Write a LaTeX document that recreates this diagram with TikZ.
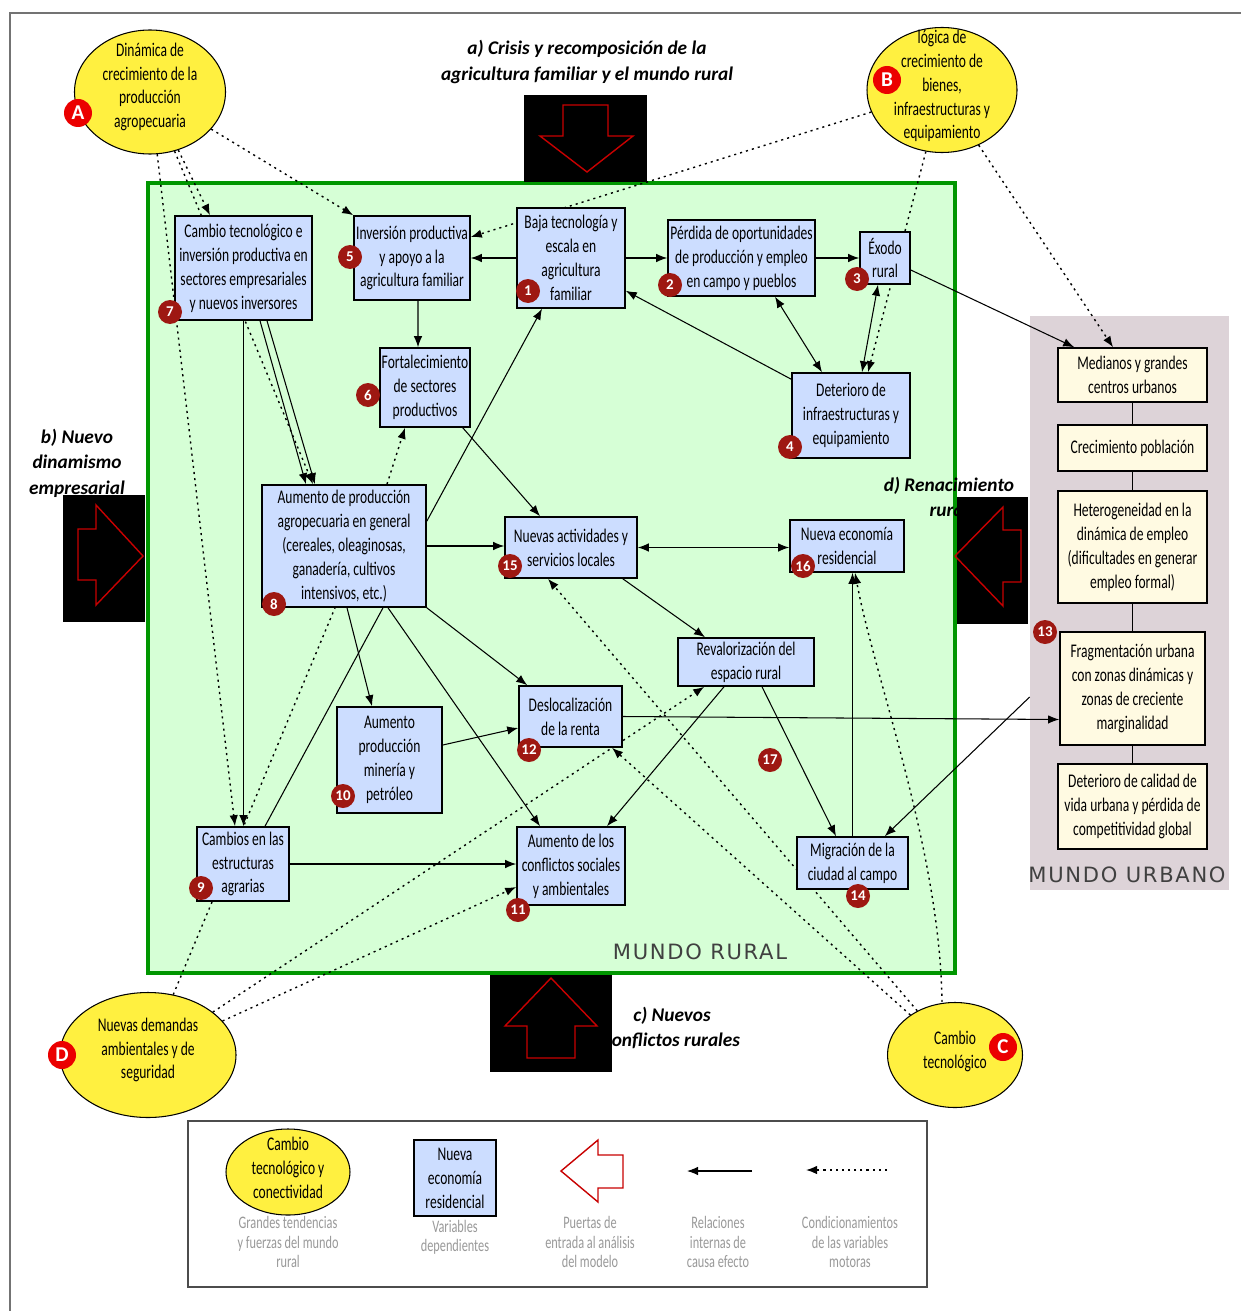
\documentclass[tikz,border=0pt]{standalone}
\usepackage{fontspec}
\setmainfont{Carlito}
\newfontfamily\estrecha[FakeStretch=0.7]{Carlito}
\newfontfamily\rotulo[LetterSpace=8]{DejaVu Sans}
\usepackage{tikz}
\usetikzlibrary{shapes.geometric,arrows.meta,positioning}
\pgfdeclarelayer{fondo}
\pgfdeclarelayer{lineas}
\pgfsetlayers{fondo,lineas,main}

\definecolor{verdefondo}{RGB}{214,255,214}
\definecolor{verdeborde}{RGB}{0,150,0}
\definecolor{azulvar}{RGB}{204,221,255}
\definecolor{crema}{RGB}{255,250,226}
\definecolor{malva}{RGB}{221,211,216}
\definecolor{amarillo}{RGB}{255,240,64}
\definecolor{rojonum}{RGB}{158,24,18}
\definecolor{rojoletra}{RGB}{235,0,0}
\definecolor{rojoflecha}{RGB}{200,0,0}

\tikzset{
  var/.style={draw,line width=0.9pt,fill=azulvar,inner sep=0pt,align=center,
    font=\estrecha\fontsize{11}{13.6}\selectfont},
  urb/.style={var,fill=crema},
  fuerza/.style={ellipse,draw,line width=0.6pt,fill=amarillo,inner sep=0pt},
  texto/.style={align=center,inner sep=0pt,font=\estrecha\fontsize{11}{13.6}\selectfont},
  num/.style={circle,fill=rojonum,text=white,minimum size=4.8mm,inner sep=0pt,
    font=\bfseries\fontsize{8.5}{8.5}\selectfont},
  letra/.style={circle,fill=rojoletra,text=white,minimum size=5.6mm,inner sep=0pt,
    font=\bfseries\fontsize{12}{12}\selectfont},
  rel/.style={->,line width=0.6pt},
  cond/.style={->,line width=0.8pt,dash pattern=on 1.2pt off 2.3pt},
  puerta/.style={draw=rojoflecha,line width=0.8pt},
  titulo/.style={align=center,inner sep=0pt,font=\bfseries\itshape\fontsize{11}{14.5}\selectfont},
  leyenda/.style={align=center,inner sep=0pt,text=black!40,font=\estrecha\fontsize{10}{11}\selectfont}
}

\begin{document}
\begin{tikzpicture}[x=0.2mm,y=-0.2mm,>={Latex[length=2.2mm,width=1.7mm]}]
\useasboundingbox (0,0) rectangle (1241,1311);

\begin{pgfonlayer}{fondo}
\fill[white] (0,0) rectangle (1241,1311);
\draw[black!55,line width=0.7pt] (10,1311) |- (1241,13);
\node[draw=verdeborde,line width=2.3pt,fill=verdefondo,minimum width=161.4mm,minimum height=158mm] (rural) at (551.5,578) {};
\node[fill=malva,inner sep=0pt,minimum width=39.8mm,minimum height=114.8mm] (urbano) at (1129.5,603) {};
\node[titulo] (tita) at (587,62) {a) Crisis y recomposición de la\\agricultura familiar y el mundo rural};
\node[titulo] (titb) at (77,463) {b) Nuevo\\dinamismo\\empresarial};
\node[titulo] (titd) at (949,497) {d) Renacimiento\\rural};
\node[titulo] (titc) at (672,1028) {c) Nuevos\\conflictos rurales};
% puertas de entrada
\fill (524,95) rectangle (647,182);
\fill (63,495) rectangle (145,622);
\fill (957,497) rectangle (1028,624);
\fill (490,975) rectangle (612,1072);
\draw[puerta] (563,105) -- (608,105) -- (608,136) -- (633,136) -- (587,172) -- (540,136) -- (563,136) -- cycle;
\draw[puerta] (78,529) -- (96,529) -- (96,505) -- (143,556) -- (96,605) -- (96,580) -- (78,580) -- cycle;
\draw[puerta] (1021,530) -- (1003,530) -- (1003,507) -- (955,556) -- (1003,606) -- (1003,582) -- (1021,582) -- cycle;
\draw[puerta] (527,1058) -- (527,1026) -- (505,1026) -- (551,978) -- (597,1026) -- (575,1026) -- (575,1058) -- cycle;
\node[font=\rotulo\fontsize{12}{12}\selectfont,text=black!75] (mrural) at (700,952) {MUNDO RURAL};
\node[font=\rotulo\fontsize{12}{12}\selectfont,text=black!75] (murbano) at (1127,875) {MUNDO URBANO};
\end{pgfonlayer}

\foreach \pos/\name/\w/\h/\txt in {
  {(571,258)/n1/21.6/20/{Baja tecnología y\\escala en\\agricultura\\familiar}},
  {(741.5,258)/n2/29.4/15.2/{Pérdida de oportunidades\\de producción y empleo\\en campo y pueblos}},
  {(885,258)/n3/10/10.4/{Éxodo\\rural}},
  {(851,415.5)/n4/23.6/17/{Deterioro de\\infraestructuras y\\equipamiento}},
  {(412,258)/n5/23.2/16.8/{Inversión productiva\\y apoyo a la\\agricultura familiar}},
  {(425,387.5)/n6/18/15.8/{Fortalecimiento\\de sectores\\productivos}},
  {(243.5,268)/n7/27.4/20.8/{Cambio tecnológico e\\inversión productiva en\\sectores empresariales\\y nuevos inversores}},
  {(344,546)/n8/32.8/24.4/{Aumento de producción\\agropecuaria en general\\(cereales, oleaginosas,\\ganadería, cultivos\\intensivos, etc.)}},
  {(243,864)/n9/18.4/14.8/{Cambios en las\\estructuras\\agrarias}},
  {(389.5,760)/n10/21/21.2/{Aumento\\producción\\minería y\\petróleo}},
  {(571,866)/n11/21.6/15.6/{Aumento de los\\conflictos sociales\\y ambientales}},
  {(570.5,716.5)/n12/20.6/12.2/{Deslocalización\\de la renta}},
  {(852.5,863)/n14/22.2/10.4/{Migración de la\\ciudad al campo}},
  {(571,547.5)/n15/26.4/12.2/{Nuevas actividades y\\servicios locales}},
  {(847,546)/n16/22.8/10.4/{Nueva economía\\residencial}},
  {(746,662)/rev/27.2/9.6/{Revalorización del\\espacio rural}}}
  \node[var,minimum width=\w mm,minimum height=\h mm] (\name) at \pos {\txt};

\foreach \pos/\name/\w/\h/\txt in {
  {(1132.5,375)/u1/29.8/10.8/{Medianos y grandes\\centros urbanos}},
  {(1132.5,448)/u2/29.8/9.2/{Crecimiento población}},
  {(1132.5,547)/u3/29.8/22.4/{Heterogeneidad en la\\dinámica de empleo\\(dificultades en generar\\empleo formal)}},
  {(1132.5,688.5)/u4/29/22.6/{Fragmentación urbana\\con zonas dinámicas y\\zonas de creciente\\marginalidad}},
  {(1132.5,806.5)/u5/29.8/17/{Deterioro de calidad de\\vida urbana y pérdida de\\competitividad global}}}
  \node[urb,minimum width=\w mm,minimum height=\h mm] (\name) at \pos {\txt};

\node[fuerza,minimum width=30.2mm,minimum height=24.8mm] (fA) at (150,92) {};
\node[texto] (tA) at (150,87) {Dinámica de\\crecimiento de la\\producción\\agropecuaria};
\node[fuerza,minimum width=30mm,minimum height=25mm] (fB) at (942,90) {};
\node[texto] (tB) at (942,86) {lógica de\\crecimiento de\\bienes,\\infraestructuras y\\equipamiento};
\node[fuerza,minimum width=27mm,minimum height=21mm] (fC) at (955,1055) {};
\node[texto] (tC) at (955,1051) {Cambio\\tecnológico};
\node[fuerza,minimum width=35.2mm,minimum height=25mm] (fD) at (148,1055) {};
\node[texto] (tD) at (148,1050) {Nuevas demandas\\ambientales y de\\seguridad};

\foreach \pos/\n in {{(528,291)/1},{(670,285)/2},{(857,279)/3},{(790,447)/4},{(350,257)/5},{(368,395)/6},{(170,312)/7},{(274,604)/8},{(201,888)/9},{(343,796)/10},{(518,910)/11},{(529,750)/12},{(1045,632)/13},{(858,896)/14},{(510,566)/15},{(803,566)/16},{(770,760)/17}}
  \node[num] (num\n) at \pos {\n};
\foreach \pos/\n in {{(78,113)/A},{(887,80)/B},{(1003,1047)/C},{(62,1055)/D}}
  \node[letra] (let\n) at \pos {\n};

\begin{pgfonlayer}{lineas}
\foreach \ax/\ay/\a/\bx/\by/\b in {0/0/n1.west/0/0/n5.east,
  0/0/n1.east/0/0/n2.west,
  0/0/n2.east/0/0/n3.west,
  0/-2.4/n3.east/3.4/0/u1.north west,
  0/-1.4/n4.north west/0/3.6/n1.south east,
  1.2/0/n5.south/-1.4/0/n6.north,
  -1.6/0/n6.south east/-6.2/0/n15.north,
  0/-7.4/n8.north east/-5.8/0/n1.south,
  -3/0/n15.south east/-8.2/0/rev.north,
  3.2/0/rev.south/-3.3/0/n14.north,
  -4.4/0/rev.south/7.2/0/n11.north,
  0/0/n12.east/0/-6.2/u4.west,
  0/3/n10.east/0/-2.3/n12.west,
  0/0/n8.south east/1.8/0/n12.north west,
  8.8/0/n8.south/-6.2/0/n11.north,
  0.6/0/n8.south/-3.5/0/n10.north,
  3.3/0/n7.south/-7.6/0/n8.north,
  4.7/0/n7.south/-5.8/0/n8.north,
  0/-18.8/urbano.west/-4.8/0/n14.north east}
  \draw[rel] ([xshift=\ax mm,yshift=\ay mm]\a) -- ([xshift=\bx mm,yshift=\by mm]\b);
\draw[rel] (n8.east) -- (n8.east -| n15.west);
\draw[rel] (n14.north) -- (n14.north |- n16.south);
\draw[rel] (n7.south) -- (n7.south |- n9.north);
\draw[rel] (n9.east) -- (n9.east -| n11.west);
\draw[rel,<->] (n15.east) -- (n15.east -| n16.west);
\draw[rel,<->] ([xshift=-5.8mm]n4.north) -- ([xshift=6.7mm]n2.south);
\draw[rel,<->] ([xshift=2.2mm]n4.north) -- ([xshift=-1.4mm]n3.south);
\draw[rel,-] ([xshift=4.4mm]n9.north) -- ([xshift=7.8mm]n8.south);
\foreach \a/\bx/\by/\b in {fA/-6.7/0/n7.north, fA/-6.2/0/n8.north,
  fA/-1.6/0/n9.north, fA/0/0/n5.north west,
  fB/0/4.2/n5.east, fB/3.4/0/n4.north, fB/-3.9/0/u1.north,
  fC/-4.6/0/n15.south, fC/8.3/0/n12.south,
  fD/5.4/0/rev.south west, fD/0/-4.2/n11.west} % condicionamientos
  \draw[cond] (\a) -- ([xshift=\bx mm,yshift=\by mm]\b);
\draw[cond] ([xshift=8.6mm]n8.north) -- ([xshift=-4mm]n6.south);
\draw[cond,-] (fD) -- ([xshift=-1.8mm]n8.south);
\draw[cond] ([xshift=-2.6mm]fC.north) .. controls (940,850) and (875,680) .. ([xshift=1.6mm]n16.south);
\foreach \a/\b in {u1/u2, u2/u3, u3/u4, u4/u5}
  \draw[line width=0.9pt] (\a.south) -- (\b.north);
\end{pgfonlayer}

% leyenda
\node[draw=black!70,line width=0.7pt,minimum width=147.8mm,minimum height=33.2mm] (ley) at (557.5,1204) {};
\node[fuerza,minimum width=24.8mm,minimum height=17.2mm] (leyf) at (288,1172) {};
\node[texto] (leyft) at (288,1168) {Cambio\\tecnológico y\\conectividad};
\node[var,minimum width=16.4mm,minimum height=15.2mm] (leyv) at (455,1178) {Nueva\\economía\\residencial};
\draw[puerta] (623,1155) -- (598,1155) -- (598,1140) -- (561,1171) -- (598,1202) -- (598,1188) -- (623,1188) -- cycle;
\coordinate (leyr1) at (752,1171);
\coordinate (leyr2) at (687,1171);
\coordinate (leyc1) at (887,1170);
\coordinate (leyc2) at (806,1170);
\draw[rel] (leyr1) -- (leyr2);
\draw[cond] (leyc1) -- (leyc2);
\node[leyenda] (leyt1) at (288,1242) {Grandes tendencias\\y fuerzas del mundo\\rural};
\node[leyenda] (leyt2) at (455,1237) {Variables\\dependientes};
\node[leyenda] (leyt3) at (590,1242) {Puertas de\\entrada al análisis\\del modelo};
\node[leyenda] (leyt4) at (718,1242) {Relaciones\\internas de\\causa efecto};
\node[leyenda] (leyt5) at (850,1242) {Condicionamientos\\de las variables\\motoras};
\end{tikzpicture}
\end{document}
